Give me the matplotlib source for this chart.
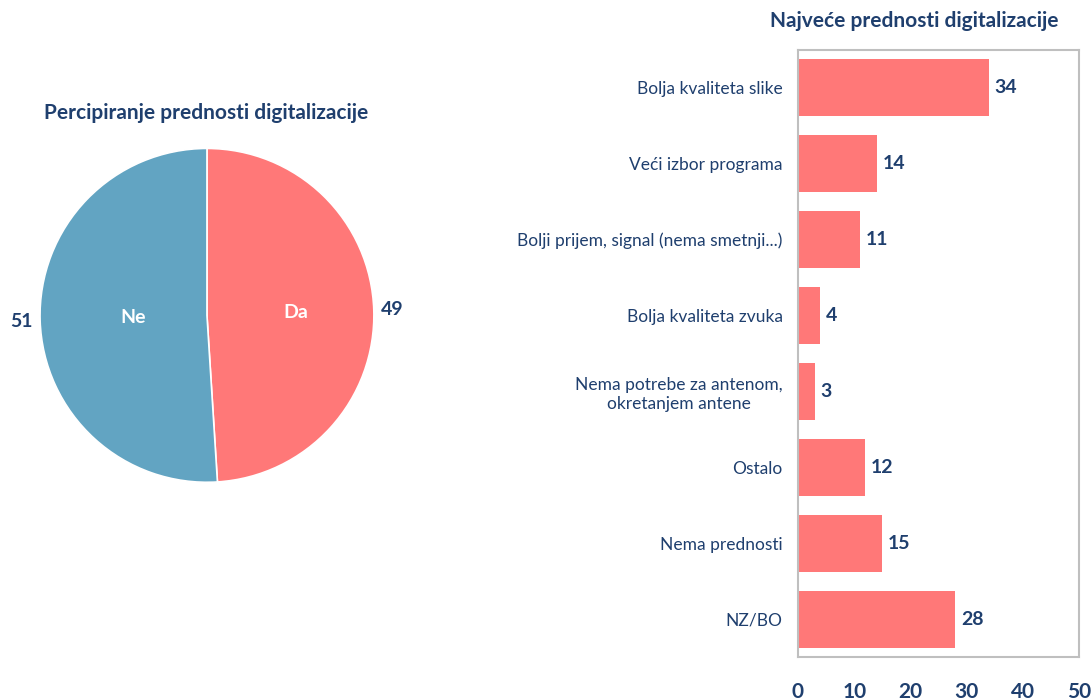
import matplotlib
matplotlib.use("Agg")
import matplotlib.pyplot as plt
import numpy as np

plt.rcParams['font.family'] = ['Lato', 'DejaVu Sans']

NAVY = '#1F3F6E'
RED = '#FF7878'
BLUE = '#62A4C2'

# Pie data
pie_labels = ['Da', 'Ne']
pie_values = [49, 51]
pie_colors = [RED, BLUE]

# Bar data
categories = ['Bolja kvaliteta slike', 'Veći izbor programa', 'Bolji prijem, signal (nema smetnji...)',
              'Bolja kvaliteta zvuka', 'Nema potrebe za antenom,\nokretanjem antene', 'Ostalo',
              'Nema prednosti', 'NZ/BO']
values = [34, 14, 11, 4, 3, 12, 15, 28]
xticks = [0, 10, 20, 30, 40, 50]

fig = plt.figure(figsize=(10.91, 7.0), dpi=100)

# Pie
axp = fig.add_axes([0.0367, 0.311, 0.306, 0.477])
wedges, _ = axp.pie(pie_values, colors=pie_colors, startangle=90, counterclock=False,
                    wedgeprops=dict(edgecolor='white', linewidth=1.2))
axp.set_xlim(-1.0, 1.0)
axp.set_ylim(-1.0, 1.0)
axp.set_aspect('equal')
inner_r = [0.53, 0.44]
for w, lab, v, r in zip(wedges, pie_labels, pie_values, inner_r):
    ang = np.deg2rad((w.theta1 + w.theta2) / 2)
    axp.text(r * np.cos(ang), r * np.sin(ang), lab, ha='center', va='center',
             color='white', fontsize=14, fontweight='bold')
    axp.text(1.11 * np.cos(ang), 1.11 * np.sin(ang), str(v), ha='center', va='center',
             color=NAVY, fontsize=14, fontweight='bold', clip_on=False)
fig.text(0.189, 0.838, 'Percipiranje prednosti digitalizacije', ha='center', va='center',
         color=NAVY, fontsize=15, fontweight='bold')

# Bars
axb = fig.add_axes([0.7314, 0.0614, 0.2576, 0.8672])
y = np.arange(len(categories))
bars = axb.barh(y, values, height=0.75, color=RED)
axb.set_ylim(len(categories) - 0.5, -0.5)
axb.set_xlim(0, 50)
axb.set_yticks(y)
axb.set_yticklabels(categories, fontsize=12.5, color=NAVY, ha='right', multialignment='center')
axb.set_xticks(xticks)
axb.set_xticklabels([str(t) for t in xticks], fontsize=15, fontweight='bold', color=NAVY)
axb.tick_params(axis='y', length=0, pad=11)
axb.tick_params(axis='x', length=0, pad=18)
for s in axb.spines.values():
    s.set_color('#BFBFBF')
    s.set_linewidth(1.5)
for b, v in zip(bars, values):
    axb.text(b.get_width() + 1.0, b.get_y() + b.get_height() / 2, str(v), ha='left', va='center',
             color=NAVY, fontsize=14, fontweight='bold')
fig.text(0.838, 0.97, 'Najveće prednosti digitalizacije', ha='center', va='center',
         color=NAVY, fontsize=15, fontweight='bold')

fig.savefig('out.png', dpi=100)
